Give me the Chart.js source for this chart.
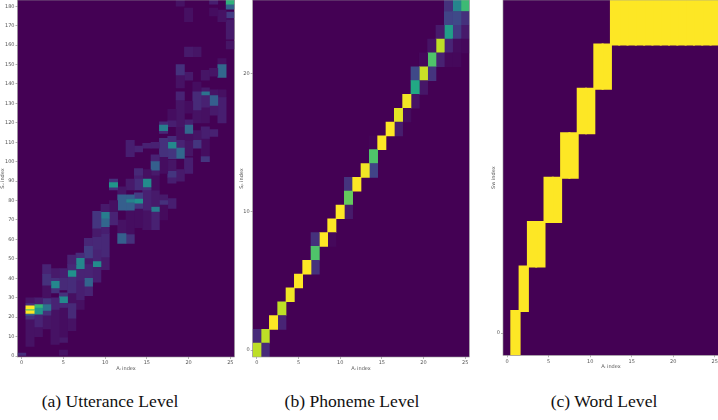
<!DOCTYPE html>
<html><head><meta charset="utf-8">
<style>
html,body{margin:0;padding:0;background:#fff;width:718px;height:420px;overflow:hidden;position:relative}
canvas{position:absolute;top:0}
.cap{position:absolute;top:391px;font:17.6px "Liberation Serif",serif;color:#111;transform:translateX(-50%);white-space:nowrap}
</style>
<script src="https://cdn.jsdelivr.net/npm/chart.js@4"></script>
</head><body>
<canvas id="a" width="240" height="372" style="left:0;width:240px;height:372px;filter:blur(.65px)"></canvas>
<canvas id="b" width="236" height="372" style="left:239px;width:236px;height:372px;filter:blur(.35px)"></canvas>
<canvas id="c" width="236" height="370" style="left:491px;width:236px;height:370px;filter:blur(.3px)"></canvas>
<div class="cap" style="left:110px">(a) Utterance Level</div>
<div class="cap" style="left:352px">(b) Phoneme Level</div>
<div class="cap" style="left:604px">(c) Word Level</div>
<script>
const categories = Array.from({length:26},(_,i)=>String(i));
const xTicks = [0,5,10,15,20,25];
const xTitle = "Aᵢ index";
const uttTicks = [0,10,20,30,40,50,60,70,80,90,100,110,120,130,140,150,160,170,180];
const phoTicks = [0,10,20];
const wordTicks = [0];
// [column, from, to, strength 0..1]
const utteranceCells = [
[0,0,1.5,.18],
[1,24.2,25.8,1],[1,23.6,24.2,.72],[1,21.9,23.6,1],[1,21,21.9,.3],[1,19,21,.2],[1,25.8,27,.2],[1,27,30,.08],[1,5,19,.07],
[2,25,26.5,.66],[2,21.5,25,.52],[2,15,21.5,.14],[2,26.5,30,.12],[2,10,15,.07],
[3,23.5,26.5,.38],[3,21,23.5,.2],[3,26.5,29.5,.22],[3,14,21,.08],[3,36.5,42,.2],[3,42,47,.14],[3,29.5,36.5,.06],
[4,35,38.5,.46],[4,38.5,40,.2],[4,32.5,35,.2],[4,24,30,.14],[4,6,24,.07],[4,40,45,.1],
[5,27.5,30.5,.47],[5,30.5,32.5,.2],[5,25,27.5,.16],[5,34,40,.17],[5,40,45,.12],[5,7,9.5,.1],[5,0.5,3,.07],[5,10,25,.05],
[6,41,44,.5],[6,44,47,.16],[6,32.5,41,.18],[6,19.5,27,.17],[6,13,19.5,.07],[6,47,52,.13],[6,27,32.5,.06],
[7,45,50.3,.46],[7,50.3,53,.18],[7,39,45,.14],[7,29,39,.12],[7,24,29,.06],
[8,36,40,.32],[8,40,47,.14],[8,31,36,.14],[8,50.5,56.5,.25],[8,56.5,60.5,.15],[8,44,50.5,.1],
[9,46,48.6,.48],[9,48.6,54.5,.14],[9,65.8,74.4,.22],[9,61.5,65.8,.1],[9,38,46,.12],[9,54.5,61.5,.16],
[10,71,74,.42],[10,66.6,71,.33],[10,63,66.6,.12],[10,51,63,.16],[10,44.5,51,.1],[10,74,78,.1],
[11,86.9,89.2,.52],[11,89.2,91,.2],[11,85.5,86.9,.2],[11,67.5,74,.14],[11,74,80,.06],
[12,58,63,.3],[12,75,83,.3],[12,83,87,.08],[12,63,70,.07],
[13,79,80.5,.44],[13,80.5,83,.3],[13,75,79,.3],[13,58,62.5,.2],[13,85.5,91,.1],[13,102.6,111,.12],[13,63,75,.05],
[14,78.6,80.7,.5],[14,80.7,84,.25],[14,76,78.6,.22],[14,85.5,91,.18],[14,93,96.5,.16],[14,87,93,.12],[14,105,108,.14],[14,66,76,.05],
[15,87,91,.48],[15,85.5,87,.2],[15,75,85.5,.13],[15,65,75,.07],[15,91,96,.06],[15,107,109.5,.13],
[16,74.4,76.6,.42],[16,65,74.4,.13],[16,77,85,.1],[16,95.7,100,.3],[16,100,103.5,.14],[16,93,95.7,.1],[16,107,110,.13],[16,85,93,.05],
[17,78,80,.2],[17,80,83,.1],[17,116,118.8,.42],[17,118.8,120.5,.16],[17,114.5,116,.16],[17,102.6,112,.2],[17,94,102.6,.05],[17,70,78,.04],
[18,107,110,.47],[18,110,113,.18],[18,101.6,107,.22],[18,118,121,.12],[18,92,95,.22],[18,89,92,.12],[18,95,101,.08],[18,76,81,.12],[18,121,127,.05],
[19,101.7,107,.33],[19,107,111,.14],[19,90,96,.1],[19,131.8,136,.14],[19,118,131.8,.08],[19,144.6,150,.2],[19,138,144.6,.07],[19,180,183,.07],[19,111,118,.06],
[20,114.6,118.8,.33],[20,118.8,121.5,.12],[20,111,114.6,.06],[20,94,102,.12],[20,142,146,.1],[20,154,159,.1],[20,172,179,.06],[20,125,131,.05],[20,103,111,.08],
[21,126.6,136,.17],[21,107,111,.22],[21,111,116,.08],[21,154,159,.08],[21,136,141,.05],[21,120,126.6,.07],
[22,134.3,136,.38],[22,128,134.3,.13],[22,136,138,.1],[22,100,102.6,.22],[22,112,118,.12],[22,120,128,.06],[22,142,147,.08],[22,103,112,.05],
[23,129,134,.3],[23,124,129,.1],[23,113,116.5,.13],[23,134,137,.08],[23,144,148,.08],[23,181,183,.12],[23,175,179,.05],
[24,143.4,150,.33],[24,120,133,.12],[24,133,137,.06],[24,150,153,.06],[24,172,178,.07],
[25,181,183.5,.64],[25,178.5,181,.3],[25,174,177,.25],[25,163,173,.1],[25,158,162,.08]
];
// [column, row, strength 0..1]
const phonemeCells = [
[0,0,.9],[1,0,.12],[0,1,.12],[1,1,.9],[2,2,1],[3,2,.1],[3,3,.9],[4,4,.98],[5,5,1],[6,6,1],[7,6,.14],
[7,7,.72],[7,8,.14],[8,8,1],[9,8,.02],[9,9,1],[10,10,1],[11,10,.07],[11,11,.76],[12,12,1],[11,12,.15],
[13,13,.98],[14,13,.2],[14,14,.72],[15,15,1],[14,15,.01],[16,16,1],[17,16,.08],[17,17,.96],[18,17,.03],
[18,18,.98],[19,18,.05],[19,19,.6],[20,19,.06],[19,20,.22],[20,20,.92],[21,20,.15],[20,21,.02],[21,21,.72],[22,21,.09],[23,21,.02],[24,21,.02],
[21,22,.05],[22,22,.9],[23,22,.1],[24,22,.03],[25,22,.02],[22,23,.07],[23,23,.55],[24,23,.17],[25,23,.07],
[23,24,.2],[24,24,.22],[25,24,.14],[23,25,.14],[24,25,.45],[25,25,.68]
];
// [first column, last column, row]
const wordRuns = [[1,1,0],[2,2,1],[3,4,2],[5,6,3],[7,8,4],[9,10,5],[11,12,6],[13,25,7]];

const viridis = ["#440154","#482475","#414487","#355f8d","#2a788e","#21918c","#22a884","#44bf70","#7ad151","#bddf26","#fde725"];
function mix(v){
  const p=Math.min(9.999,Math.max(0,v*10)),i=Math.floor(p),t=p-i;
  const h=s=>[1,3,5].map(k=>parseInt(s.substr(k,2),16));
  const A=h(viridis[i]),B=h(viridis[i+1]);
  return `rgb(${A.map((c,k)=>Math.round(c+(B[k]-c)*t)).join(",")})`;
}
const softMix = v => mix(v<.3 ? v*.7 : v);
const frame = {id:'frame',
  beforeDatasetsDraw(c){const a=c.chartArea,x=c.ctx;x.save();x.fillStyle=viridis[0];x.fillRect(a.left,a.top,a.width,a.height);x.restore();},
  afterDatasetsDraw(c){const a=c.chartArea,x=c.ctx;x.save();x.strokeStyle='#9a9a9a';x.lineWidth=.6;x.strokeRect(a.left,a.top,a.width,a.height);x.restore();}
};
Chart.defaults.font.family='"DejaVu Sans"';
function draw(id,cells,colour,yMin,yMax,yTicks,yTitle,left,bottom,right,inflate){
  new Chart(document.getElementById(id),{
    type:'bar',
    data:{labels:categories,datasets:cells.map(([col,from,to,v])=>({
      data:[{x:String(col),y:[from,to]}],backgroundColor:colour(v),grouped:false,barPercentage:1,categoryPercentage:1,borderWidth:0,inflateAmount:inflate
    }))},
    plugins:[frame],
    options:{responsive:false,animation:false,events:[],
      layout:{padding:{left:0,top:0,right:right,bottom:0}},
      plugins:{legend:{display:false},tooltip:{enabled:false}},
      scales:{
        x:{type:'category',offset:true,
          afterBuildTicks(s){s.ticks=xTicks.map(v=>({value:v}));},
          afterFit(s){s.height=bottom;s.paddingLeft=0;s.paddingRight=0;},
          grid:{display:true,offset:false,drawOnChartArea:false,tickLength:2,tickColor:'#666',tickWidth:.5},
          border:{display:false},
          ticks:{autoSkip:false,maxRotation:0,minRotation:0,padding:1,color:'#555',font:{size:5}},
          title:{display:true,text:xTitle,color:'#555',font:{size:5},padding:{top:1,bottom:0}}},
        y:{type:'linear',min:yMin,max:yMax,
          afterBuildTicks(s){s.ticks=yTicks.map(v=>({value:v}));},
          afterFit(s){s.width=left;s.paddingTop=0;s.paddingBottom=0;},
          grid:{display:true,drawOnChartArea:false,tickLength:2,tickColor:'#666',tickWidth:.5},
          border:{display:false},
          ticks:{padding:1,color:'#555',font:{size:5},callback:v=>String(v)},
          title:{display:true,text:yTitle,color:'#555',font:{size:5},padding:{top:0,bottom:0}}}
      }
    }
  });
}
draw('a',utteranceCells,softMix,-0.5,183.2,uttTicks,"Sᵤ index",17.5,15,5.5,.33);
draw('b',phonemeCells.map(([c,r,v])=>[c,r-.5,r+.5,v]),mix,-0.5,25.33,phoTicks,"Sₚ index",13.7,15,5.7,.33);
const wordCells=[];
wordRuns.forEach(([a,b,r])=>{for(let c=a;c<=b;c++)wordCells.push([c,r-.5,r+.5,1]);});
draw('c',wordCells,mix,-0.5,7.5,wordTicks,"Sw index",12,14.7,8.15,1);
</script>
</body></html>
